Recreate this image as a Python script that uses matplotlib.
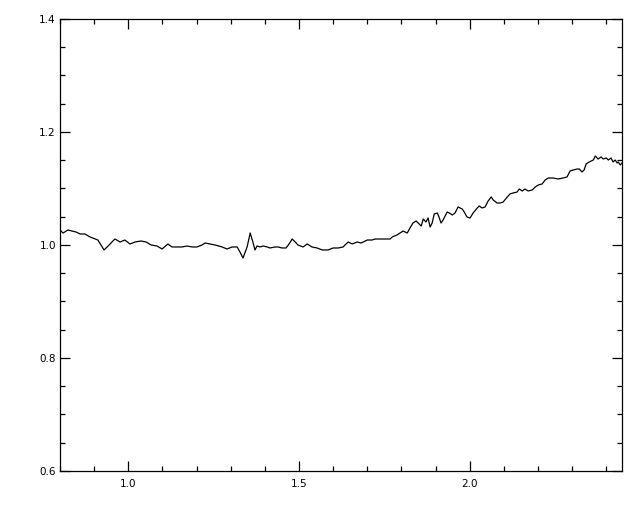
import numpy as np
import matplotlib
matplotlib.use("Agg")
import matplotlib.pyplot as plt
from matplotlib.ticker import MultipleLocator

# spectrum ratio
wave = [0.800, 0.809, 0.823, 0.835, 0.847, 0.859, 0.873, 0.888, 0.903, 0.911,
        0.920, 0.929, 0.941, 0.955, 0.961, 0.976, 0.990, 1.005, 1.020, 1.037,
        1.052, 1.067, 1.084, 1.099, 1.116, 1.128, 1.143, 1.157, 1.172, 1.187,
        1.201, 1.216, 1.225, 1.239, 1.254, 1.275, 1.289, 1.304, 1.319, 1.327,
        1.336, 1.348, 1.357, 1.365, 1.371, 1.377, 1.386, 1.395, 1.407, 1.415,
        1.430, 1.439, 1.450, 1.462, 1.471, 1.480, 1.489, 1.497, 1.512, 1.524,
        1.538, 1.553, 1.568, 1.585, 1.600, 1.615, 1.629, 1.644, 1.656, 1.670,
        1.682, 1.700, 1.714, 1.723, 1.767, 1.773, 1.787, 1.796, 1.805, 1.817,
        1.825, 1.834, 1.843, 1.849, 1.858, 1.864, 1.872, 1.878, 1.884, 1.890,
        1.896, 1.905, 1.910, 1.916, 1.922, 1.934, 1.940, 1.949, 1.957, 1.966,
        1.978, 1.984, 1.992, 2.001, 2.010, 2.022, 2.028, 2.036, 2.045, 2.054,
        2.063, 2.069, 2.080, 2.089, 2.098, 2.110, 2.118, 2.127, 2.139, 2.145,
        2.154, 2.162, 2.171, 2.183, 2.192, 2.201, 2.212, 2.221, 2.230, 2.244,
        2.259, 2.274, 2.285, 2.294, 2.303, 2.315, 2.321, 2.329, 2.335, 2.341,
        2.350, 2.362, 2.368, 2.373, 2.376, 2.385, 2.391, 2.400, 2.406, 2.414,
        2.420, 2.426, 2.432, 2.435, 2.441, 2.446]

ratio = [1.0265, 1.0212, 1.0265, 1.0248, 1.0230, 1.0195, 1.0195, 1.0142, 1.0106, 1.0088,
         1.0000, 0.9912, 0.9982, 1.0071, 1.0106, 1.0053, 1.0088, 1.0018, 1.0053, 1.0071,
         1.0053, 1.0000, 0.9982, 0.9929, 1.0018, 0.9965, 0.9965, 0.9965, 0.9982, 0.9965,
         0.9965, 1.0000, 1.0035, 1.0018, 1.0000, 0.9965, 0.9929, 0.9965, 0.9965, 0.9876,
         0.9770, 0.9965, 1.0212, 1.0053, 0.9912, 0.9982, 0.9965, 0.9982, 0.9965, 0.9947,
         0.9965, 0.9965, 0.9947, 0.9947, 1.0018, 1.0106, 1.0053, 1.0000, 0.9965, 1.0018,
         0.9965, 0.9947, 0.9912, 0.9912, 0.9947, 0.9947, 0.9965, 1.0053, 1.0018, 1.0053,
         1.0035, 1.0088, 1.0088, 1.0106, 1.0106, 1.0142, 1.0177, 1.0212, 1.0248, 1.0212,
         1.0301, 1.0389, 1.0425, 1.0389, 1.0336, 1.0460, 1.0407, 1.0478, 1.0319, 1.0389,
         1.0549, 1.0566, 1.0496, 1.0389, 1.0442, 1.0584, 1.0566, 1.0531, 1.0566, 1.0673,
         1.0637, 1.0584, 1.0496, 1.0478, 1.0566, 1.0655, 1.0690, 1.0655, 1.0673, 1.0779,
         1.0850, 1.0796, 1.0743, 1.0743, 1.0761, 1.0850, 1.0903, 1.0920, 1.0938, 1.0991,
         1.0956, 1.0991, 1.0956, 1.0973, 1.1027, 1.1062, 1.1080, 1.1150, 1.1186, 1.1186,
         1.1168, 1.1186, 1.1204, 1.1310, 1.1327, 1.1345, 1.1345, 1.1292, 1.1327, 1.1434,
         1.1469, 1.1504, 1.1575, 1.1540, 1.1522, 1.1558, 1.1522, 1.1540, 1.1504, 1.1540,
         1.1469, 1.1504, 1.1451, 1.1469, 1.1416, 1.1451]

fig = plt.figure(figsize=(6.4, 5.12), dpi=100)
ax = fig.add_axes([0.09375, 0.0801, 0.8781, 0.8828])

ax.plot(wave, ratio, color="black", lw=0.9)

ax.set_xlim(0.8, 2.446)
ax.set_ylim(0.6, 1.4)
ax.xaxis.set_major_locator(MultipleLocator(0.5))
ax.xaxis.set_minor_locator(MultipleLocator(0.1))
ax.yaxis.set_major_locator(MultipleLocator(0.2))
ax.yaxis.set_minor_locator(MultipleLocator(0.05))
ax.xaxis.set_major_formatter(matplotlib.ticker.FormatStrFormatter("%.1f"))
ax.yaxis.set_major_formatter(matplotlib.ticker.FormatStrFormatter("%.1f"))

ax.tick_params(which="both", direction="in", top=True, right=True,
               width=0.9, colors="black", labelsize=7.5)
ax.tick_params(which="major", length=7.2, pad=6)
ax.tick_params(which="minor", length=3.6)
ax.tick_params(axis="y", which="major", pad=3)
for s in ax.spines.values():
    s.set_linewidth(0.9)

fig.savefig("out.png", dpi=100)
